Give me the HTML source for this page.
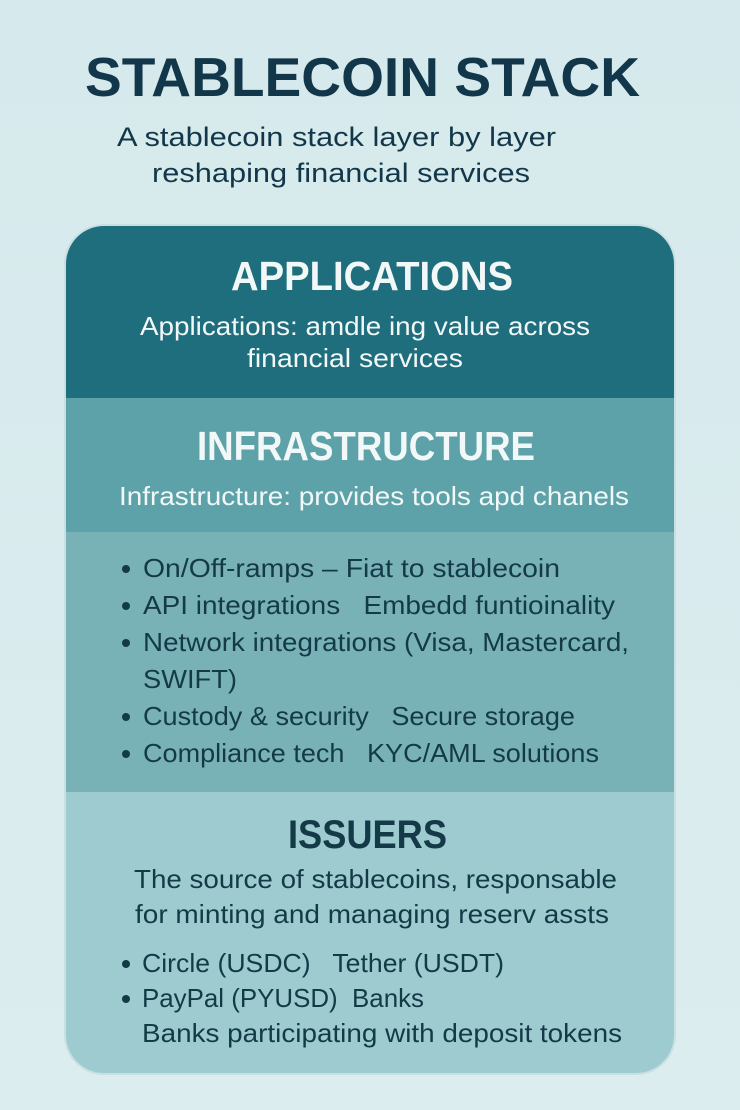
<!DOCTYPE html>
<html><head><meta charset="utf-8"><style>
html,body{margin:0;padding:0;background:#d9ebee;}
svg{display:block;}
text{font-family:"Liberation Sans",sans-serif;white-space:pre;}
</style></head><body>
<svg width="740" height="1110" viewBox="0 0 740 1110" xmlns="http://www.w3.org/2000/svg" xml:space="preserve">
<defs>
<clipPath id="c"><rect x="66" y="226" width="608" height="847" rx="38" ry="38"/></clipPath>
<linearGradient id="bg" x1="0" y1="0" x2="0" y2="1"><stop offset="0" stop-color="#d6e9ec"/><stop offset="1" stop-color="#dcedef"/></linearGradient>
</defs>
<rect width="740" height="1110" fill="url(#bg)"/>
<rect x="64" y="224" width="612" height="851" rx="40" ry="40" fill="#c9e0e3"/>
<g clip-path="url(#c)">
<rect x="66" y="226" width="608" height="172" fill="#1f6e7d"/>
<rect x="66" y="398" width="608" height="134" fill="#5ea2a9"/>
<rect x="66" y="532" width="608" height="260" fill="#78b2b7"/>
<rect x="66" y="792" width="608" height="281" fill="#9dcbcf"/>
</g>
<g fill="#13374a">
<text x="85" y="96" font-size="55" font-weight="bold" textLength="555" lengthAdjust="spacingAndGlyphs">STABLECOIN STACK</text>
<text x="117" y="146" font-size="27" textLength="439" lengthAdjust="spacingAndGlyphs">A stablecoin stack layer by layer</text>
<text x="152" y="182" font-size="27" textLength="378" lengthAdjust="spacingAndGlyphs">reshaping financial services</text>
</g>
<g fill="#f2f8f8">
<text x="231" y="290" font-size="41" font-weight="bold" textLength="282" lengthAdjust="spacingAndGlyphs">APPLICATIONS</text>
<text x="140" y="335" font-size="26" textLength="450" lengthAdjust="spacingAndGlyphs">Applications: amdle ing value across</text>
<text x="247" y="367" font-size="26" textLength="216" lengthAdjust="spacingAndGlyphs">financial services</text>
<text x="197" y="460" font-size="41" font-weight="bold" textLength="338" lengthAdjust="spacingAndGlyphs">INFRASTRUCTURE</text>
<text x="119" y="505" font-size="26" textLength="510" lengthAdjust="spacingAndGlyphs">Infrastructure: provides tools apd chanels</text>
</g>
<g fill="#143a48" font-size="26">
<circle cx="126" cy="569" r="4"/><text x="143" y="577" textLength="417" lengthAdjust="spacingAndGlyphs">On/Off-ramps – Fiat to stablecoin</text>
<circle cx="126" cy="606" r="4"/><text x="143" y="614" textLength="472" lengthAdjust="spacingAndGlyphs">API integrations   Embedd funtioinality</text>
<circle cx="126" cy="643" r="4"/><text x="143" y="651" textLength="486" lengthAdjust="spacingAndGlyphs">Network integrations (Visa, Mastercard,</text>
<text x="143" y="688" textLength="94" lengthAdjust="spacingAndGlyphs">SWIFT)</text>
<circle cx="126" cy="717" r="4"/><text x="143" y="725" textLength="432" lengthAdjust="spacingAndGlyphs">Custody &amp; security   Secure storage</text>
<circle cx="126" cy="754" r="4"/><text x="143" y="762" textLength="456" lengthAdjust="spacingAndGlyphs">Compliance tech   KYC/AML solutions</text>
<text x="288" y="848" font-size="40" font-weight="bold" textLength="159" lengthAdjust="spacingAndGlyphs">ISSUERS</text>
<text x="134" y="888" textLength="483" lengthAdjust="spacingAndGlyphs">The source of stablecoins, responsable</text>
<text x="135" y="923" textLength="474" lengthAdjust="spacingAndGlyphs">for minting and managing reserv assts</text>
<circle cx="126" cy="964" r="4"/><text x="142" y="972" textLength="362" lengthAdjust="spacingAndGlyphs">Circle (USDC)   Tether (USDT)</text>
<circle cx="126" cy="999" r="4"/><text x="142" y="1007" textLength="282" lengthAdjust="spacingAndGlyphs">PayPal (PYUSD)  Banks</text>
<text x="142" y="1042" textLength="480" lengthAdjust="spacingAndGlyphs">Banks participating with deposit tokens</text>
</g>
</svg>
</body></html>
